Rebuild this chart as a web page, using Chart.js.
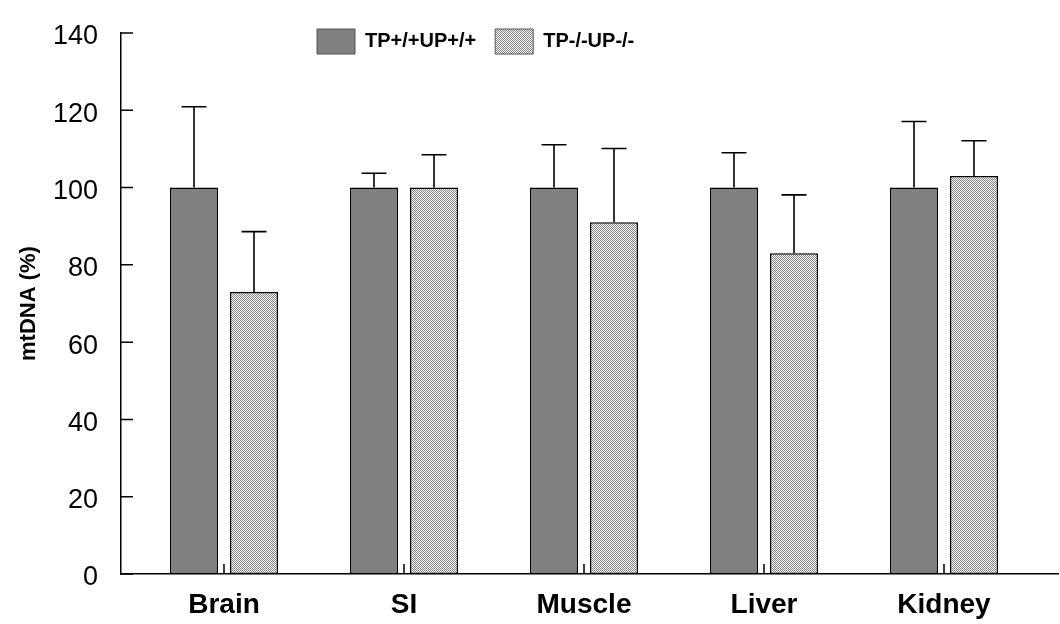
<!DOCTYPE html>
<html>
<head>
<meta charset="utf-8">
<script src="https://cdn.jsdelivr.net/npm/chart.js@4.4.1/dist/chart.umd.min.js"></script>
<style>
  body { margin: 0; background: #fff; }
  #wrap { width: 1060px; height: 624px; }
</style>
</head>
<body>
<div id="wrap"><canvas id="chart" width="1060" height="624"></canvas></div>
<script>
const categories = ["Brain", "SI", "Muscle", "Liver", "Kidney"];
const seriesNames = ["TP+/+UP+/+", "TP-/-UP-/-"];
const wildTypeValues = [100, 100, 100, 100, 100];
const wildTypeErrors = [20.9, 3.7, 11.1, 9.0, 17.1];
const knockoutValues = [73, 100, 91, 83, 103];
const knockoutErrors = [15.6, 8.5, 19.1, 15.1, 9.1];
const yTicks = [0, 20, 40, 60, 80, 100, 120, 140];

const FONT = "'Liberation Sans', Arial, sans-serif";

// fine checkered fill like the original
function makeHatch() {
  const c = document.createElement("canvas");
  c.width = 2;
  c.height = 2;
  const g = c.getContext("2d");
  g.fillStyle = "#ffffff";
  g.fillRect(0, 0, 2, 2);
  g.fillStyle = "#828282";
  g.fillRect(0, 0, 1, 1);
  g.fillRect(1, 1, 1, 1);
  return g.createPattern(c, "repeat");
}
const hatch = makeHatch();

function toPoints(values) {
  return values.map((v, i) => ({ x: i, y: v }));
}

const errorBars = {
  id: "errorBars",
  afterDatasetsDraw(chart) {
    const { ctx } = chart;
    const y = chart.scales.y;
    const errors = [wildTypeErrors, knockoutErrors];
    ctx.save();
    ctx.strokeStyle = "#000";
    ctx.lineWidth = 1.6;
    chart.data.datasets.forEach((ds, d) => {
      chart.getDatasetMeta(d).data.forEach((bar, i) => {
        const top = y.getPixelForValue(ds.data[i].y + errors[d][i]);
        ctx.beginPath();
        ctx.moveTo(bar.x, bar.y);
        ctx.lineTo(bar.x, top);
        ctx.moveTo(bar.x - 12.5, top);
        ctx.lineTo(bar.x + 12.5, top);
        ctx.stroke();
      });
    });
    ctx.restore();
  }
};

// tick marks pointing into the plot
const innerTicks = {
  id: "innerTicks",
  afterDraw(chart) {
    const { ctx, chartArea } = chart;
    const { x, y } = chart.scales;
    ctx.save();
    ctx.strokeStyle = "#000";
    ctx.lineWidth = 1.5;
    ctx.beginPath();
    y.ticks.forEach(t => {
      const py = y.getPixelForValue(t.value);
      ctx.moveTo(chartArea.left, py);
      ctx.lineTo(chartArea.left + 12, py);
    });
    x.ticks.forEach(t => {
      const px = x.getPixelForValue(t.value);
      ctx.moveTo(px, chartArea.bottom);
      ctx.lineTo(px, chartArea.bottom - 10);
    });
    ctx.stroke();
    ctx.restore();
  }
};

// legend sits inside the plot, so it must not take layout space
const floatingLegend = {
  id: "floatingLegend",
  beforeUpdate(chart) {
    const lg = chart.legend;
    if (lg && !lg._floating) {
      lg._floating = true;
      const fit = lg.fit;
      lg.fit = function () {
        fit.call(this);
        this._fullHeight = this.height;
        this.height = 0;
      };
    }
  },
  afterLayout(chart) {
    const lg = chart.legend;
    if (!lg) return;
    lg.top = 10;
    lg.height = lg._fullHeight;
    lg.bottom = lg.top + lg.height;
    lg.left = 298;
    lg.right = 1060;
  }
};

new Chart(document.getElementById("chart"), {
  type: "bar",
  data: {
    datasets: [
      {
        label: seriesNames[0],
        data: toPoints(wildTypeValues),
        backgroundColor: "#808080",
        borderColor: "#000",
        borderWidth: 1.5,
        borderSkipped: false
      },
      {
        label: seriesNames[1],
        data: toPoints(knockoutValues),
        backgroundColor: hatch,
        borderColor: "#000",
        borderWidth: 1.5,
        borderSkipped: false
      }
    ]
  },
  options: {
    responsive: false,
    animation: false,
    datasets: {
      bar: { categoryPercentage: 0.6667, barPercentage: 0.8 }
    },
    layout: { padding: { top: 33, right: 2, left: 0, bottom: 0 } },
    plugins: {
      tooltip: { enabled: false },
      legend: {
        position: "top",
        align: "start",
        labels: {
          boxWidth: 38,
          boxHeight: 25,
          padding: 19,
          color: "#000",
          font: { family: FONT, size: 20, weight: "bold" },
          generateLabels(chart) {
            const items = Chart.defaults.plugins.legend.labels.generateLabels(chart);
            items.forEach(it => {
              it.strokeStyle = "#555";
              it.lineWidth = 1;
            });
            return items;
          }
        }
      }
    },
    scales: {
      x: {
        type: "linear",
        offset: false,
        min: -0.5722,
        max: 4.6333,
        afterBuildTicks: s => { s.ticks = categories.map((c, i) => ({ value: i })); },
        afterFit: s => { s.height = 50; },
        grid: { display: false, drawTicks: false },
        border: { display: true, color: "#000", width: 1.5 },
        ticks: {
          autoSkip: false,
          maxRotation: 0,
          padding: 14,
          color: "#000",
          font: { family: FONT, size: 28, weight: "bold" },
          callback: v => categories[v]
        }
      },
      y: {
        min: 0,
        max: 140,
        afterBuildTicks: s => { s.ticks = yTicks.map(v => ({ value: v })); },
        afterFit: s => { s.width = 121; },
        // hidden tick length gives the label gap without padding the top of the plot
        grid: { display: false, drawTicks: true, tickLength: 23 },
        border: { display: true, color: "#000", width: 1.5 },
        ticks: {
          padding: 0,
          labelOffset: 4,
          color: "#000",
          font: { family: FONT, size: 27 }
        },
        title: {
          display: true,
          text: "mtDNA (%)",
          color: "#000",
          padding: { top: 16, bottom: 0 },
          font: { family: FONT, size: 22, weight: "bold" }
        }
      }
    }
  },
  plugins: [errorBars, innerTicks, floatingLegend]
});
</script>
</body>
</html>
